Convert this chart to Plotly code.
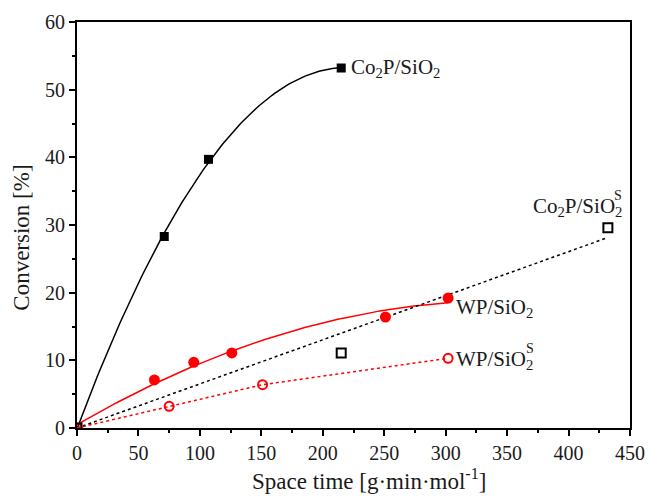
import numpy as np
import plotly.graph_objects as go

# Space time [g·min·mol^-1] and conversion [%] for each catalyst
co2p_x = [0, 71, 107, 215]
co2p_y = [0, 28.3, 39.7, 53.2]

wp_x = [0, 63, 95, 126, 251, 302]
wp_y = [0, 7.1, 9.7, 11.1, 16.4, 19.2]

co2p_s_x = [0, 215, 432]
co2p_s_y = [0, 11.1, 29.6]

wp_s_x = [0, 75, 151, 302]
wp_s_y = [0, 3.2, 6.4, 10.3]

x_ticks = [0, 50, 100, 150, 200, 250, 300, 350, 400, 450]
y_ticks = [0, 10, 20, 30, 40, 50, 60]

SERIF = "Liberation Serif"
TXT = "#1a1a1a"
RED = "#ff0000"
BLACK = "#000000"

fig = go.Figure()

# Quadratic fits for the supported catalysts
def quad_fit(xs, ys):
    c = np.polyfit(xs, ys, 2)
    xx = np.linspace(min(xs), max(xs), 120)
    return xx, np.polyval(c, xx)

fx, fy = quad_fit(co2p_x, co2p_y)
fig.add_trace(go.Scatter(x=fx, y=fy, mode="lines",
                         line=dict(color=BLACK, width=1.5), hoverinfo="skip"))
fx, fy = quad_fit(wp_x, wp_y)
fig.add_trace(go.Scatter(x=fx, y=fy, mode="lines",
                         line=dict(color=RED, width=1.5), hoverinfo="skip"))

# Linear fit through the origin for Co2P/SiO2^S
xs = np.array(co2p_s_x, dtype=float)
ys = np.array(co2p_s_y, dtype=float)
slope = float(xs @ ys / (xs @ xs))
lx = np.array([0.0, xs.max()])
fig.add_trace(go.Scatter(x=lx, y=slope * lx, mode="lines",
                         line=dict(color=BLACK, width=1.5, dash="3px,3px"),
                         hoverinfo="skip"))

# WP/SiO2^S joined point to point
fig.add_trace(go.Scatter(x=wp_s_x, y=wp_s_y, mode="lines+markers",
                         line=dict(color=RED, width=1.5, dash="3px,3px"),
                         marker=dict(symbol="circle-open", size=9,
                                     color=RED, line=dict(width=2))))

fig.add_trace(go.Scatter(x=co2p_x[1:], y=co2p_y[1:], mode="markers",
                         marker=dict(symbol="square", size=9, color=BLACK)))
fig.add_trace(go.Scatter(x=wp_x[1:], y=wp_y[1:], mode="markers",
                         marker=dict(symbol="circle", size=11, color=RED)))
fig.add_trace(go.Scatter(x=co2p_s_x, y=co2p_s_y, mode="markers",
                         marker=dict(symbol="square-open", size=9,
                                     color=BLACK, line=dict(width=2))))

lab_font = dict(family=SERIF, size=21, color=TXT)
sup_font = dict(family=SERIF, size=14, color=TXT)
title_font = dict(family=SERIF, size=23, color=TXT)

annotations = [
    dict(x=co2p_x[-1], y=co2p_y[-1], xanchor="left", yanchor="middle", xshift=8,
         text="Co<sub>2</sub>P/SiO<sub>2</sub>", font=lab_font),
    dict(x=wp_x[-1], y=17.7, xanchor="left", yanchor="middle", xshift=6,
         text="WP/SiO<sub>2</sub>", font=lab_font),
    dict(x=wp_s_x[-1], y=10.0, xanchor="left", yanchor="middle", xshift=6,
         text="WP/SiO<sub>2</sub>", font=lab_font),
    dict(x=wp_s_x[-1], y=10.0, xanchor="left", yanchor="middle", xshift=76, yshift=12,
         text="S", font=sup_font),
    dict(x=co2p_s_x[-1], y=32.6, xanchor="right", yanchor="middle", xshift=16,
         text="Co<sub>2</sub>P/SiO<sub>2</sub>", font=lab_font),
    dict(x=co2p_s_x[-1], y=32.6, xanchor="right", yanchor="middle", xshift=16, yshift=12,
         text="S", font=sup_font),
]
for a in annotations:
    a.update(xref="x", yref="y", showarrow=False)

# Axis titles
annotations += [
    dict(xref="paper", yref="paper", x=0.528, y=-0.128, xanchor="center",
         yanchor="middle", showarrow=False, font=title_font,
         text="Space time [g·min·mol<sup>-1</sup>]"),
    dict(xref="paper", yref="paper", x=-0.1, y=0.468, xanchor="center",
         yanchor="middle", showarrow=False, font=title_font, textangle=-90,
         text="Conversion [%]"),
]

axis_common = dict(
    showline=True, linecolor=BLACK, linewidth=2, mirror=True,
    ticks="outside", ticklen=6, tickwidth=1.5, tickcolor=BLACK,
    showgrid=False, zeroline=False, automargin=False,
    tickfont=dict(family=SERIF, size=20, color=TXT),
)

fig.update_layout(
    width=650, height=500,
    margin=dict(l=77, r=20, t=22, b=72),
    paper_bgcolor="white", plot_bgcolor="white",
    showlegend=False,
    font=dict(family=SERIF, color=TXT),
    annotations=annotations,
    xaxis=dict(axis_common, range=[0, 450], tickvals=x_ticks,
               minor=dict(ticks="outside", dtick=25, ticklen=3, tickcolor=BLACK)),
    yaxis=dict(axis_common, range=[0, 60], tickvals=y_ticks,
               minor=dict(ticks="outside", dtick=5, ticklen=3, tickcolor=BLACK)),
)

fig.write_html("out.html")
